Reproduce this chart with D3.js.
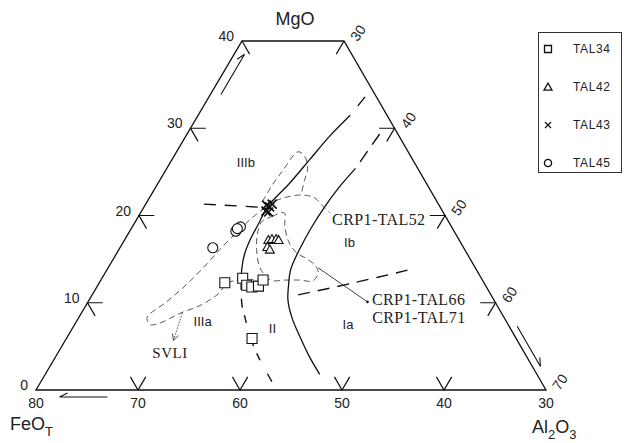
<!DOCTYPE html>
<html>
<head>
<meta charset="utf-8">
<script src="https://cdn.jsdelivr.net/npm/d3@7"></script>
<style>
  html, body { margin: 0; padding: 0; background: #fff; }
  svg { display: block; }
</style>
</head>
<body>
<svg id="chart" width="624" height="443"></svg>
<script>
// Compositions are [FeO_T, MgO] in wt%; Al2O3 is the remainder to 100.
const seriesNames = ["TAL34", "TAL42", "TAL43", "TAL45"];
const tal34 = [[55.4, 12.3], [53.4, 12.8], [53.4, 12.0], [53.0, 11.8], [52.3, 11.9], [51.5, 12.6], [55.9, 5.9]];
const tal42 = [[48.7, 17.2], [48.3, 17.3], [47.9, 17.3], [47.7, 17.2], [49.2, 16.4], [49.1, 16.1]];
const tal43 = [[46.9, 21.2], [46.7, 21.0], [47.3, 20.5], [47.1, 20.4], [46.3, 21.3]];
const tal45 = [[51.4, 18.2], [50.7, 18.7], [51.1, 18.5], [54.6, 16.3]];

// Axis tick values
const mgoTicks = [0, 10, 20, 30, 40];
const feoTicks = [80, 70, 60, 50, 40, 30];
const al2o3Ticks = [30, 40, 50, 60, 70];

// Field boundaries (solid parts, then dashed continuations)
const boundaryA = [[33.6, 31.5], [36.8, 29.1], [40.1, 26.4], [43.4, 23.7], [46.9, 21.0], [48.8, 19.0],
                   [50.5, 17.2], [51.9, 15.5], [53.0, 13.8], [54.2, 11.5]];
const boundaryAUpper = [[33.6, 31.5], [31.1, 33.6]];
const boundaryALower = [[54.2, 11.5], [55.0, 9.7], [55.4, 8.3], [55.9, 6.5], [56.3, 4.0], [56.4, 0.8]];
const boundaryB = [[36.1, 25.4], [38.7, 23.3], [41.3, 21.0], [43.8, 18.6], [46.2, 16.1], [48.2, 13.8],
                   [49.3, 12.0], [50.2, 10.3], [50.8, 8.3], [51.1, 6.1], [51.3, 3.8], [51.3, 1.8]];
const boundaryBUpper = [[36.1, 25.4], [31.5, 29.6]];
const divideIII = [[53.0, 21.3], [49.9, 21.1], [46.9, 20.9]];
const divideI = [[48.9, 10.9], [42.7, 12.3], [36.1, 13.9]];

// Compositional fields of the reference glasses
const fieldSVLI = [[47.2, 20.9], [49.1, 19.7], [51.3, 18.1], [53.5, 16.5], [55.9, 14.6], [59.1, 12.2],
                   [62.2, 10.1], [65.0, 8.3], [65.1, 7.5], [64.0, 7.7], [61.5, 8.8], [59.1, 9.7],
                   [56.7, 11.0], [55.1, 12.3], [53.3, 12.6], [51.2, 12.8]];
const fieldTAL52a = [[47.1, 21.6], [45.2, 23.5], [43.3, 25.2], [40.8, 27.3], [40.4, 26.8], [40.8, 25.4],
                     [41.8, 24.0], [42.7, 22.7]];
const fieldTAL52b = [[45.8, 21.7], [44.1, 22.2], [42.75, 22.35], [41.75, 22.0], [41.5, 21.2], [41.1, 20.3]];
const fieldTAL66 = [[48.3, 19.3], [47.0, 19.9], [45.6, 20.3], [46.3, 18.8], [46.8, 17.1], [46.7, 15.8],
                    [46.0, 15.0], [45.55, 14.3], [45.7, 13.4], [46.7, 12.5], [47.9, 12.6], [49.3, 12.6],
                    [50.8, 12.6], [51.1, 14.0], [50.4, 16.1], [49.3, 18.1]];
const leaderTAL66 = [[45.4, 14.0], [42.5, 10.1]];
const arrowSVLI = [[61.3, 8.8], [63.7, 5.7]];

const svg = d3.select("#chart");

// Ternary projection: FeO_T runs along the base, MgO sets the height
const xFeO = d3.scaleLinear().domain([80, 30]).range([36, 546]);
const yMgO = d3.scaleLinear().domain([0, 40]).range([390, 41]);
const shiftMgO = d3.scaleLinear().domain([0, 40]).range([0, -202]);
const proj = ([f, m]) => [xFeO(f) + shiftMgO(m), yMgO(m)];

const straight = d3.line().x(d => proj(d)[0]).y(d => proj(d)[1]);
const smooth = d3.line().curve(d3.curveCatmullRom.alpha(0.5)).x(d => proj(d)[0]).y(d => proj(d)[1]);
const smoothClosed = d3.line().curve(d3.curveCatmullRomClosed.alpha(0.5)).x(d => proj(d)[0]).y(d => proj(d)[1]);

const ink = "#111";
const sans = "'Liberation Sans', Arial, sans-serif";
const serif = "'Liberation Serif', 'Times New Roman', serif";

// Triangle frame
const frame = [[80, 0], [40, 40], [30, 40], [30, 0]];
svg.append("path").attr("d", straight(frame) + "Z")
  .attr("fill", "none").attr("stroke", ink).attr("stroke-width", 1.3);

// Tick marks along the three edges
const dt = 1.5;
const ticks = [];
mgoTicks.filter(m => m > 0 && m < 40).forEach(m => {
  const f = 80 - m;
  ticks.push([[f - dt, m], [f, m], [f, m - dt]]);
});
ticks.push([[40, 40], [40, 40 - dt]]);
feoTicks.filter(f => f < 80 && f > 30).forEach(f => {
  ticks.push([[f, dt], [f, 0], [f - dt, dt]]);
});
al2o3Ticks.filter(a => a > 30 && a < 70).forEach(a => {
  const m = 70 - a;
  ticks.push([[30 + dt, m], [30, m], [30 + dt, m - dt]]);
});
ticks.push([[30, 40], [30 + dt, 40 - dt]]);
svg.append("g").selectAll("path").data(ticks).join("path")
  .attr("d", d => straight(d)).attr("fill", "none").attr("stroke", ink).attr("stroke-width", 1.2);

// Tick labels
const tickFont = { "font-family": sans, "font-size": "14px", "fill": "#222" };
function styleText(sel, s) { Object.entries(s).forEach(([k, v]) => sel.attr(k, v)); return sel; }
styleText(svg.append("g").selectAll("text").data(mgoTicks).join("text")
  .attr("x", m => proj([80 - m, m])[0] - 8)
  .attr("y", m => proj([80 - m, m])[1])
  .attr("text-anchor", "end")
  .text(m => m), tickFont);
styleText(svg.append("g").selectAll("text").data(feoTicks).join("text")
  .attr("x", f => proj([f, 0])[0])
  .attr("y", 408)
  .attr("text-anchor", "middle")
  .text(f => f), tickFont);
styleText(svg.append("g").selectAll("text").data(al2o3Ticks).join("text")
  .attr("transform", a => {
    const p = proj([30, 70 - a]);
    return `translate(${p[0] + 14},${p[1] - 8}) rotate(-55)`;
  })
  .attr("text-anchor", "middle")
  .attr("dy", "0.35em")
  .text(a => a), tickFont);

// Axis titles
svg.append("text").attr("x", 295).attr("y", 25).attr("text-anchor", "middle")
  .attr("font-family", sans).attr("font-size", "18px").attr("fill", "#222").text("MgO");
const feoTitle = svg.append("text").attr("x", 10).attr("y", 430)
  .attr("font-family", sans).attr("font-size", "18px").attr("fill", "#222");
feoTitle.append("tspan").text("FeO");
feoTitle.append("tspan").attr("font-size", "13px").attr("dy", 6).text("T");
const alTitle = svg.append("text").attr("x", 532).attr("y", 433)
  .attr("font-family", sans).attr("font-size", "18px").attr("fill", "#222");
alTitle.append("tspan").text("Al");
alTitle.append("tspan").attr("font-size", "13px").attr("dy", 6).text("2");
alTitle.append("tspan").attr("dy", -6).text("O");
alTitle.append("tspan").attr("font-size", "13px").attr("dy", 6).text("3");

// Direction arrows beside the edges (single-barbed)
function offsetPoint(p, q, d) {
  const dx = q[0] - p[0], dy = q[1] - p[1], L = Math.hypot(dx, dy);
  return [-dy / L * d, dx / L * d];
}
function harpoon(a, b, off, barbSide) {
  const p = proj(a), q = proj(b);
  const o = offsetPoint(p, q, off);
  const s = [p[0] + o[0], p[1] + o[1]], e = [q[0] + o[0], q[1] + o[1]];
  const dx = e[0] - s[0], dy = e[1] - s[1], L = Math.hypot(dx, dy);
  const ux = dx / L, uy = dy / L;
  const ang = barbSide * 0.45, bl = 9;
  const bx = e[0] - bl * (ux * Math.cos(ang) - uy * Math.sin(ang));
  const by = e[1] - bl * (uy * Math.cos(ang) + ux * Math.sin(ang));
  svg.append("path")
    .attr("d", `M${s[0]},${s[1]}L${e[0]},${e[1]}M${e[0]},${e[1]}L${bx},${by}`)
    .attr("fill", "none").attr("stroke", ink).attr("stroke-width", 1.1);
}
harpoon([80 - 34.4, 34.4], [80 - 39.0, 39.0], 9, 1);
harpoon([73.0, 0], [77.7, 0], -7, -1);
harpoon([30, 6.9], [30, 2.3], -7, 1);

// Thin dashed compositional fields
const thin = svg.append("g").attr("fill", "none").attr("stroke", "#444")
  .attr("stroke-width", 0.9).attr("stroke-dasharray", "6 4");
thin.append("path").attr("d", smooth(fieldSVLI));
thin.append("path").attr("d", smooth(fieldTAL52a));
thin.append("path").attr("d", smooth(fieldTAL52b));
thin.append("path").attr("d", smoothClosed(fieldTAL66));

// Leader lines
svg.append("path").attr("d", straight(leaderTAL66)).attr("fill", "none")
  .attr("stroke", ink).attr("stroke-width", 0.8);
const leaderEnd = proj(leaderTAL66[1]);
svg.append("circle").attr("cx", leaderEnd[0]).attr("cy", leaderEnd[1]).attr("r", 1.3).attr("fill", ink);
svg.append("path").attr("d", straight(arrowSVLI)).attr("fill", "none")
  .attr("stroke", "#333").attr("stroke-width", 0.9).attr("stroke-dasharray", "1.5 1.5");
{
  const p = proj(arrowSVLI[0]), q = proj(arrowSVLI[1]);
  const dx = q[0] - p[0], dy = q[1] - p[1], L = Math.hypot(dx, dy), ux = dx / L, uy = dy / L;
  const h = 6, w = 3;
  svg.append("path")
    .attr("d", `M${q[0] - ux * h - uy * w},${q[1] - uy * h + ux * w}L${q[0]},${q[1]}L${q[0] - ux * h + uy * w},${q[1] - uy * h - ux * w}`)
    .attr("fill", "none").attr("stroke", "#333").attr("stroke-width", 0.9);
}

// Boundaries between fields
const solidLines = svg.append("g").attr("fill", "none").attr("stroke", ink).attr("stroke-width", 1.3);
solidLines.append("path").attr("d", smooth(boundaryA));
solidLines.append("path").attr("d", smooth(boundaryB));
const dashLines = svg.append("g").attr("fill", "none").attr("stroke", ink).attr("stroke-width", 1.4);
dashLines.append("path").attr("d", straight(boundaryAUpper)).attr("stroke-dasharray", "0 12 14 20");
dashLines.append("path").attr("d", smooth(boundaryALower)).attr("stroke-dasharray", "0 9 9 8 8 6");
dashLines.append("path").attr("d", straight(boundaryBUpper)).attr("stroke-dasharray", "13 8").attr("stroke-dashoffset", 13);
dashLines.append("path").attr("d", smooth(divideIII)).attr("stroke-dasharray", "12 9");
dashLines.append("path").attr("d", smooth(divideI)).attr("stroke-dasharray", "12 8");

// Field names and sample annotations
const fieldLabels = [
  { t: "IIIb", c: [46.5, 26.1] }, { t: "IIIa", c: [59.8, 7.8] }, { t: "II", c: [53.3, 7.1] },
  { t: "Ib", c: [40.9, 16.9] }, { t: "Ia", c: [45.7, 7.5] }
];
svg.append("g").selectAll("text").data(fieldLabels).join("text")
  .attr("x", d => proj(d.c)[0]).attr("y", d => proj(d.c)[1]).attr("dy", "0.35em")
  .attr("text-anchor", "middle").attr("font-family", sans).attr("font-size", "13px")
  .attr("fill", "#222").text(d => d.t);

const sampleLabels = [
  { t: "CRP1-TAL52", c: [41.27, 19.6], anchor: "start" },
  { t: "CRP1-TAL66", c: [41.9, 10.43], anchor: "start" },
  { t: "CRP1-TAL71", c: [42.9, 8.37], anchor: "start" },
  { t: "SVLI", c: [64.76, 4.24], anchor: "middle" }
];
svg.append("g").selectAll("text").data(sampleLabels).join("text")
  .attr("x", d => proj(d.c)[0]).attr("y", d => proj(d.c)[1]).attr("dy", "0.35em")
  .attr("text-anchor", d => d.anchor).attr("font-family", serif)
  .attr("font-size", d => d.t === "SVLI" ? "15px" : "16px")
  .attr("letter-spacing", d => d.t === "SVLI" ? "0.5px" : "0.4px")
  .attr("fill", "#222").text(d => d.t);

// Sample markers
function markerPath(kind, s) {
  if (kind === 0) return `M${-s},${-s}H${s}V${s}H${-s}Z`;
  if (kind === 1) { const h = s * 1.0; return `M0,${-h}L${s},${h * 0.8}L${-s},${h * 0.8}Z`; }
  if (kind === 2) return `M${-s},${-s}L${s},${s}M${-s},${s}L${s},${-s}`;
  return d3.arc()({ innerRadius: 0, outerRadius: s, startAngle: 0, endAngle: 2 * Math.PI });
}
const seriesData = [tal34, tal42, tal43, tal45];
const plotSize = [5, 4.5, 4.5, 5];
const markers = svg.append("g");
seriesData.forEach((pts, k) => {
  markers.append("g").selectAll("path").data(pts).join("path")
    .attr("transform", d => `translate(${proj(d)[0]},${proj(d)[1]})`)
    .attr("d", markerPath(k, plotSize[k]))
    .attr("fill", k === 2 ? "none" : "#fff")
    .attr("stroke", ink)
    .attr("stroke-width", k === 2 ? 1.7 : 1.1);
});

// Legend
const legend = svg.append("g");
legend.append("rect").attr("x", 538.5).attr("y", 32.5).attr("width", 83).attr("height", 140)
  .attr("fill", "#fff").attr("stroke", "#333").attr("stroke-width", 1);
const rowY = d3.scaleLinear().domain([0, 3]).range([49, 163]);
const legendSize = [3.5, 4, 3, 3.6];
seriesNames.forEach((name, k) => {
  legend.append("path")
    .attr("transform", `translate(548,${rowY(k)})`)
    .attr("d", markerPath(k, legendSize[k]))
    .attr("fill", "none").attr("stroke", ink).attr("stroke-width", k === 2 ? 1.2 : 1.3);
  legend.append("text").attr("x", 573).attr("y", rowY(k)).attr("dy", "0.35em")
    .attr("font-family", sans).attr("font-size", "12px").attr("letter-spacing", "0.6px")
    .attr("fill", "#222").text(name);
});
</script>
</body>
</html>
